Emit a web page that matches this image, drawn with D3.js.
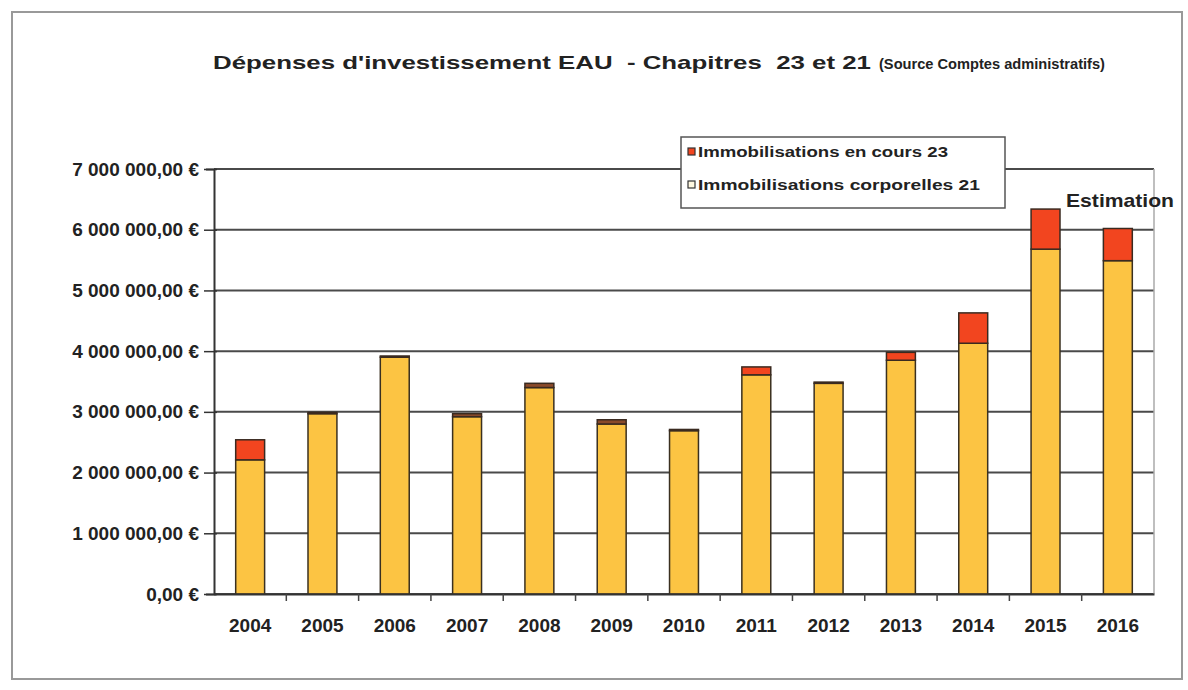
<!DOCTYPE html>
<html lang="fr">
<head>
  <meta charset="utf-8">
  <title>Dépenses d'investissement EAU</title>
  <script src="https://cdn.jsdelivr.net/npm/d3@7"></script>
  <style>
    body { margin: 0; background: #fff; }
    svg text { font-family: "Liberation Sans", Arial, sans-serif; font-weight: bold; fill: #222; }
  </style>
</head>
<body>
  <svg id="chart" width="1188" height="690"></svg>

  <script type="text/javascript">
    // données
    var annees = ["2004", "2005", "2006", "2007", "2008", "2009", "2010", "2011", "2012", "2013", "2014", "2015", "2016"];
    var corporelles21 = [2210000, 2970000, 3900000, 2920000, 3400000, 2800000, 2690000, 3610000, 3470000, 3850000, 4130000, 5680000, 5490000];
    var enCours23 = [330000, 20000, 20000, 50000, 70000, 70000, 20000, 130000, 20000, 130000, 500000, 660000, 530000];
    var yTicks = [0, 1000000, 2000000, 3000000, 4000000, 5000000, 6000000, 7000000];
    var legende = ["Immobilisations en cours 23", "Immobilisations corporelles 21"];

    var svg = d3.select("#chart");

    // cadre extérieur
    svg.append("rect")
      .attr("x", 12).attr("y", 12)
      .attr("width", 1170).attr("height", 667)
      .attr("fill", "none")
      .attr("stroke", "#999")
      .attr("stroke-width", 2);

    var plotLeft = 214, plotRight = 1154, plotTop = 169, plotBottom = 594;

    var x = d3.scaleBand()
      .domain(annees)
      .range([plotLeft, plotRight])
      .paddingInner(0.6)
      .paddingOuter(0.3);

    var y = d3.scaleLinear()
      .domain([0, 7000000])
      .range([plotBottom, plotTop]);

    var fr = d3.formatLocale({ decimal: ",", thousands: "\u00a0", grouping: [3], currency: ["", "\u00a0€"] });
    var fmt = fr.format("$,.2f");

    // grille horizontale
    svg.append("g").selectAll("line")
      .data(yTicks)
      .enter().append("line")
      .attr("x1", plotLeft).attr("x2", plotRight)
      .attr("y1", function (d) { return y(d); })
      .attr("y2", function (d) { return y(d); })
      .attr("stroke", "#4a4a4a")
      .attr("stroke-width", 2);

    // bordure droite du graphique
    svg.append("line")
      .attr("x1", plotRight).attr("x2", plotRight)
      .attr("y1", plotTop).attr("y2", plotBottom)
      .attr("stroke", "#aaa").attr("stroke-width", 1.5);

    // axe Y
    var yAxis = svg.append("g")
      .attr("transform", "translate(" + plotLeft + ",0)")
      .call(d3.axisLeft(y).tickValues(yTicks).tickFormat(fmt).tickSize(8).tickPadding(8));
    yAxis.select(".domain").attr("stroke", "#333").attr("stroke-width", 2);
    yAxis.selectAll(".tick line").attr("stroke", "#333").attr("stroke-width", 1.5).attr("x2", -10).attr("x1", 3);
    yAxis.selectAll(".tick text")
      .attr("x", -15)
      .style("font-size", "19px")
      .style("font-family", "'Liberation Sans', Arial, sans-serif")
      .style("font-weight", "bold")
      .attr("fill", "#222");

    // barres empilées
    var bars = svg.append("g");
    bars.selectAll("rect.corp")
      .data(annees)
      .enter().append("rect")
      .attr("class", "corp")
      .attr("x", function (d) { return x(d); })
      .attr("width", x.bandwidth())
      .attr("y", function (d, i) { return y(corporelles21[i]); })
      .attr("height", function (d, i) { return y(0) - y(corporelles21[i]); })
      .attr("fill", "#fcc443")
      .attr("stroke", "#3a3020")
      .attr("stroke-width", 1.5);

    bars.selectAll("rect.cours")
      .data(annees)
      .enter().append("rect")
      .attr("class", "cours")
      .attr("x", function (d) { return x(d); })
      .attr("width", x.bandwidth())
      .attr("y", function (d, i) { return y(corporelles21[i] + enCours23[i]); })
      .attr("height", function (d, i) { return y(corporelles21[i]) - y(corporelles21[i] + enCours23[i]); })
      .attr("fill", function (d, i) { return enCours23[i] > 100000 ? "#f2451f" : "#8a4a2a"; })
      .attr("stroke", "#3a2a20")
      .attr("stroke-width", 1.5);

    // axe X
    var xAxis = svg.append("g")
      .attr("transform", "translate(0," + plotBottom + ")")
      .call(d3.axisBottom(x).tickSize(0).tickPadding(25));
    xAxis.select(".domain").attr("stroke", "#333").attr("stroke-width", 2);
    xAxis.selectAll(".tick text")
      .style("font-size", "19px")
      .style("font-family", "'Liberation Sans', Arial, sans-serif")
      .style("font-weight", "bold")
      .attr("fill", "#222");
    // petites graduations entre les catégories
    svg.append("g").selectAll("line")
      .data(annees.slice(1))
      .enter().append("line")
      .attr("x1", function (d) { return x(d) - x.step() * x.paddingInner() / 2; })
      .attr("x2", function (d) { return x(d) - x.step() * x.paddingInner() / 2; })
      .attr("y1", plotBottom).attr("y2", plotBottom + 7)
      .attr("stroke", "#444").attr("stroke-width", 1.5);

    // titre
    svg.append("text")
      .attr("x", 213).attr("y", 69)
      .attr("textLength", 658)
      .attr("lengthAdjust", "spacingAndGlyphs")
      .style("font-size", "19px")
      .style("white-space", "pre")
      .text("Dépenses d'investissement EAU  - Chapitres  23 et 21");
    svg.append("text")
      .attr("x", 879).attr("y", 69)
      .attr("textLength", 226)
      .attr("lengthAdjust", "spacingAndGlyphs")
      .style("font-size", "15px")
      .text("(Source Comptes administratifs)");

    // légende
    var leg = svg.append("g");
    leg.append("rect")
      .attr("x", 681).attr("y", 137)
      .attr("width", 324).attr("height", 71)
      .attr("fill", "#fff")
      .attr("stroke", "#555")
      .attr("stroke-width", 1.5);
    var legColors = ["#f2451f", "#fff8e0"];
    var legY = [152, 185];
    legende.forEach(function (t, i) {
      leg.append("rect")
        .attr("x", 688).attr("y", legY[i] - 4)
        .attr("width", 7).attr("height", 7)
        .attr("fill", legColors[i])
        .attr("stroke", "#333")
        .attr("stroke-width", 1.2);
      leg.append("text")
        .attr("x", 698).attr("y", legY[i] + 5)
        .attr("textLength", i === 0 ? 250 : 282)
        .attr("lengthAdjust", "spacingAndGlyphs")
        .style("font-size", "14.5px")
        .text(t);
    });

    // annotation
    svg.append("text")
      .attr("x", 1066).attr("y", 207)
      .attr("textLength", 108)
      .attr("lengthAdjust", "spacingAndGlyphs")
      .style("font-size", "19px")
      .attr("fill", "#333")
      .text("Estimation");
  </script>
</body>
</html>
